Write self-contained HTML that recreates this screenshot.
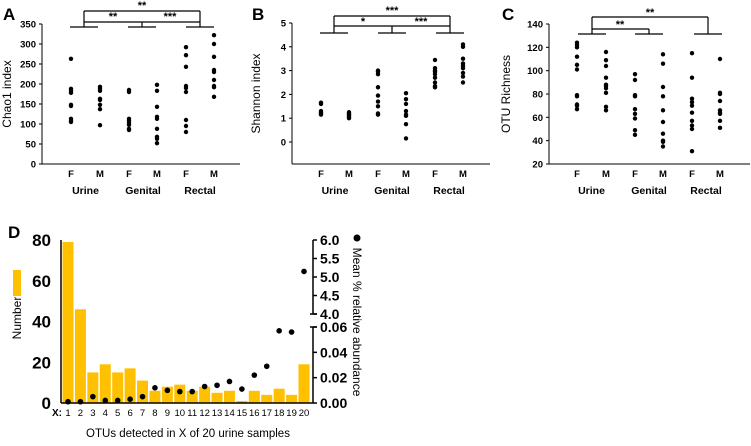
<!DOCTYPE html>
<html><head><meta charset="utf-8"><style>
body{margin:0;background:#fff;width:751px;height:441px;overflow:hidden}
svg text{font-family:"Liberation Sans",sans-serif}
</style></head><body>
<svg id="svg" width="751" height="441" xmlns="http://www.w3.org/2000/svg"></svg>
<script>
// ---- Panel A data ----
const aGroups=["Urine","Genital","Rectal"];
const aTicks=[0,50,100,150,200,250,300,350];
const aUF=[263,188,183,178,148,145,113,108,105];
const aUM=[193,188,183,163,160,148,137,97];
const aGF=[185,180,113,108,103,98,88,85];
const aGM=[198,183,143,118,113,88,68,63,52];
const aRF=[292,272,243,195,190,180,110,95,80];
const aRM=[322,300,268,235,230,210,195,192,168];
// ---- Panel B data ----
const bTicks=[0,1,2,3,4,5];
const bUF=[1.65,1.6,1.3,1.25,1.2,1.15];
const bUM=[1.25,1.2,1.15,1.1,1.05,1.0];
const bGF=[3.0,2.95,2.85,2.3,1.95,1.7,1.5,1.2,1.15];
const bGM=[2.05,1.8,1.6,1.3,1.15,1.1,0.75,0.15];
const bRF=[3.45,3.1,3.0,2.95,2.85,2.7,2.5,2.35,2.3];
const bRM=[4.1,4.0,3.5,3.3,3.2,3.1,2.9,2.75,2.5];
// ---- Panel C data ----
const cTicks=[20,40,60,80,100,120,140];
const cUF=[124,122,120,112,105,101,79,78,71,70,67];
const cUM=[116,109,104,94,88,87,85,81,69,66];
const cGF=[97,92,79,78,67,63,59,49,45];
const cGM=[114,106,86,78,66,56,46,40,39,35];
const cRF=[115,94,76,73,70,64,57,53,50,31];
const cRM=[110,81,80,74,66,64,63,57,51];
// ---- Panel D data ----
const dCats=[1,2,3,4,5,6,7,8,9,10,11,12,13,14,15,16,17,18,19,20];
const dCounts=[79,46,15,19,15,17,11,6,8,9,6,8,5,6,1,6,4,7,4,19];
const dAbund=[0.001,0.001,0.005,0.002,0.002,0.003,0.005,0.012,0.010,0.009,0.009,0.013,0.014,0.017,0.011,0.022,0.029,0.057,0.056,5.15];
const dLeftTicks=[0,20,40,60,80];
const dLowTicks=["0.00","0.02","0.04","0.06"];
const dHighTicks=["4.0","4.5","5.0","5.5","6.0"];

const svg=document.getElementById('svg');
const NS="http://www.w3.org/2000/svg";
function el(tag,attrs,parent){const e=document.createElementNS(NS,tag);for(const k in attrs)e.setAttribute(k,attrs[k]);(parent||svg).appendChild(e);return e;}
function txt(s,x,y,size,anchor,weight,parent,extra){const t=el('text',Object.assign({x:x,y:y,'font-size':size,'text-anchor':anchor||'middle','font-weight':weight||'normal',fill:'#000'},extra||{}),parent);t.textContent=s;return t;}

function scatterPanel(name,letter,letterX,axisX,yTop,yBot,vMin,vMax,axisBottom,xEnd,cats,ticks,series,tickFmt,ylabel,brackets){
  const g=el('g',{});
  
  
  const ys=v=>yBot-(v-vMin)/(vMax-vMin)*(yBot-yTop);
  const L=txt(letter,letterX,20,17,'start','bold',g);
  
  
  el('line',{x1:axisX,y1:yTop,x2:axisX,y2:axisBottom,stroke:'#000','stroke-width':1},g);
  el('line',{x1:axisX,y1:axisBottom,x2:xEnd,y2:axisBottom,stroke:'#000','stroke-width':1},g);
  ticks.forEach(t=>{const y=ys(t);el('line',{x1:axisX-3,y1:y,x2:axisX,y2:y,stroke:'#000'},g);
    const tl=txt(tickFmt(t),axisX-6,y+3.5,9.5,'end','bold',g);
    
    });
  const yl=txt(ylabel,0,0,12,'middle','normal',g,{transform:`translate(${letterX+8},${(yTop+axisBottom)/2}) rotate(-90)`});
  
  
  series.forEach((s,i)=>{const x=cats[i];
    const xl=txt(i%2?'M':'F',x,177,9.5,'middle','bold',g);
    
    
    s.forEach(v=>{const c=el('circle',{cx:x,cy:ys(v),r:2.2,fill:'#000'},g);
      
      });});
  aGroups.forEach((gname,i)=>{const x=(cats[2*i]+cats[2*i+1])/2;
    const gl=txt(gname,x,194,10.5,'middle','bold',g);
    
    });
  const bg=el('g',{stroke:'#000','stroke-width':1.2,fill:'none'},g);
  
  
  brackets.lines.forEach(l=>el('line',{x1:l[0],y1:l[1],x2:l[2],y2:l[3]},bg));
  brackets.labels.forEach(l=>txt(l[0],l[1],l[2],11,'middle','bold',g));
}
function bars(y,xs){return xs.map(x=>[x-14,y,x+14,y]);}
// Panel A
(function(){const cats=[71,100,129,157,186,214];
 scatterPanel('panel-a-chao1','A',3,42,24,164,0,350,164,240,cats,aTicks,[aUF,aUM,aGF,aGM,aRF,aRM],t=>t,'Chao1 index',
 {lines:[...bars(27,[84,142,200]),[84,11,200,11],[84,22,200,22],[84,11,84,27],[142,22,142,27],[200,11,200,27]],
  labels:[['**',142,9],['**',113,20],['***',170,20]]});})();
// Panel B
(function(){const cats=[321,349,378,406,435,463];
 scatterPanel('panel-b-shannon','B',252,292,23,142,0,5,164,490,cats,bTicks,[bUF,bUM,bGF,bGM,bRF,bRM],t=>t,'Shannon index',
 {lines:[...bars(33,[334,392,450]),[334,16,450,16],[334,26,450,26],[334,16,334,33],[392,26,392,33],[450,16,450,33]],
  labels:[['***',392,14],['*',363,25],['***',421,25]]});})();
// Panel C
(function(){const cats=[577,606,635,663,692,720];
 scatterPanel('panel-c-otu-richness','C',502,549,24,164,20,140,164,750,cats,cTicks,[cUF,cUM,cGF,cGM,cRF,cRM],t=>t,'OTU Richness',
 {lines:[...bars(34,[592,649,708]),[592,17,708,17],[592,29,649,29],[592,17,592,34],[649,29,649,34],[708,17,708,34]],
  labels:[['**',650,16],['**',620,28]]});})();
// Panel D
(function(){
 const g=el('g',{});
 
 
 const L=txt('D',8,238,17,'start','bold',g);
 
 
 const ax=61,y0=403,y80=240,x1=68,x20=304,rax=313;
 const yL=v=>y0-v/80*(y0-y80);
 const xs=i=>x1+(i-1)*(x20-x1)/19;
 const yLow=v=>y0-v/0.06*(y0-327);
 const yHigh=v=>314-(v-4)/2*(314-240);
 dCats.forEach((c,i)=>{const h=y0-yL(dCounts[i]);
   const b=el('rect',{x:xs(c)-5.5,y:yL(dCounts[i]),width:11,height:h,fill:'#FFC000'},g);
   
   
   const tl=txt(String(c),xs(c),416,9.5,'middle','normal',g);
   
   });
 dCats.forEach((c,i)=>{const v=dAbund[i];const y=v>=4?yHigh(v):yLow(v);
   const d=el('circle',{cx:xs(c),cy:y,r:2.8,fill:'#000'},g);
   
   });
 el('line',{x1:ax,y1:y80,x2:ax,y2:y0,stroke:'#000','stroke-width':1.5},g);
 el('line',{x1:ax,y1:y0,x2:rax,y2:y0,stroke:'#000','stroke-width':1.5},g);
 dLeftTicks.forEach(t=>{const tl=txt(String(t),ax-10,yL(t)+6,17,'end','bold',g);
   
   });
 el('line',{x1:rax,y1:240,x2:rax,y2:314,stroke:'#000','stroke-width':1.5},g);
 el('line',{x1:rax,y1:327,x2:rax,y2:y0,stroke:'#000','stroke-width':1.5},g);
 el('line',{x1:rax-3,y1:314,x2:rax+4,y2:314,stroke:'#000','stroke-width':1.5},g);
 el('line',{x1:rax-3,y1:327,x2:rax+4,y2:327,stroke:'#000','stroke-width':1.5},g);
 dLowTicks.forEach(t=>{const y=yLow(parseFloat(t));el('line',{x1:rax,y1:y,x2:rax+4,y2:y,stroke:'#000','stroke-width':1.5},g);
   const tl=txt(t,rax+7,y+5,14,'start','bold',g);
   
   });
 dHighTicks.forEach(t=>{const y=yHigh(parseFloat(t));el('line',{x1:rax,y1:y,x2:rax+4,y2:y,stroke:'#000','stroke-width':1.5},g);
   const tl=txt(t,rax+7,y+5,14,'start','bold',g);
   
   });
 const xl=txt('X:',62,416,10,'end','bold',g);
 
 
 const xt=txt('OTUs detected in X of 20 urine samples',188,437,11.5,'middle','normal',g);
 
 
 const lr=el('rect',{x:13,y:270,width:8,height:26,fill:'#FFC000'},g);
 
 
 const nl=txt('Number',0,0,12,'middle','normal',g,{transform:'translate(21,318) rotate(-90)'});
 
 
 const ld=el('circle',{cx:357,cy:238,r:3.5,fill:'#000'},g);
 
 
 const rl=txt('Mean % relative abundance',0,0,12,'middle','normal',g,{transform:'translate(353,322) rotate(90)'});
 
 
})();
</script>
</body></html>
